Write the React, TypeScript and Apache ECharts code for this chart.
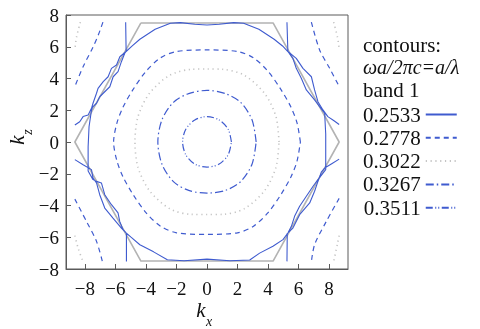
import React, { useEffect, useRef } from "react";
import * as echarts from "echarts";

// ---- data ----
const xTicks = [-8, -6, -4, -2, 0, 2, 4, 6, 8];
const levels = ["0.2533", "0.2778", "0.3022", "0.3267", "0.3511"];

// first Brillouin zone outline (kx, kz)
const bzHexagon = [
  [-4.33, 7.5], [4.33, 7.5], [8.66, 0], [4.33, -7.5], [-4.33, -7.5], [-8.66, 0], [-4.33, 7.5],
];

// contour 0.2533 (solid)
const c2533 = [
  [[-5.3, 5.7], [-4.9, 6.05], [-4.4, 6.47], [-3.4, 7.1], [-2.4, 7.48], [-1.75, 7.52], [-0.8, 7.42], [0, 7.37], [0.8, 7.42], [1.75, 7.52], [2.4, 7.48], [3.4, 7.1], [4.4, 6.47], [4.95, 6.05], [5.3, 5.7]],
  [[-5.3, -5.73], [-5.0, -5.98], [-4.4, -6.47], [-3.5, -6.92], [-2.6, -7.42], [-1.5, -7.48], [0, -7.38], [1.5, -7.48], [2.8, -7.43], [3.45, -7.0], [4.32, -6.57], [4.98, -6.15], [5.3, -5.73]],
  [[-5.33, 7.55], [-5.3, 5.7]],
  [[5.24, 7.55], [5.3, 5.7]],
  [[-5.28, -5.73], [-5.28, -7.52]],
  [[5.26, -5.73], [5.24, -7.52]],
  [[-5.3, 5.7], [-5.71, 5.37], [-5.93, 4.85], [-6.26, 4.64], [-6.48, 4.11], [-6.8, 3.8], [-7.14, 3.38], [-7.24, 3.07], [-7.47, 2.44], [-7.57, 2.12], [-7.79, 1.7], [-8.12, 1.6], [-8.34, 1.28], [-8.66, 1.07]],
  [[-5.3, 5.7], [-5.39, 5.59], [-5.61, 5.06], [-5.83, 4.43], [-6.15, 4.11], [-6.37, 3.48], [-6.8, 3.07], [-7.03, 2.85], [-7.24, 2.44], [-7.5, 2.2], [-7.57, 2.0], [-7.73, 0.96], [-7.79, -0.3], [-7.79, -1.83], [-7.47, -2.37], [-7.24, -2.48], [-6.92, -2.58], [-6.7, -3.32], [-6.26, -3.95], [-5.83, -4.47], [-5.72, -5.0], [-5.5, -5.52], [-5.3, -5.73]],
  [[-8.66, -1.11], [-8.12, -1.43], [-7.57, -1.74], [-7.47, -2.27], [-7.24, -2.58], [-7.03, -3.32], [-6.7, -4.16], [-6.16, -4.79], [-5.61, -5.42], [-5.3, -5.73]],
  [[5.3, 5.7], [5.85, 5.27], [6.29, 4.64], [6.84, 4.11], [7.05, 3.28], [7.27, 2.54], [7.6, 2.02], [7.92, 1.6], [8.3, 1.35], [8.66, 1.1]],
  [[5.3, 5.7], [5.63, 5.27], [5.85, 4.64], [6.18, 4.01], [6.51, 3.28], [7.05, 2.65], [7.38, 2.22], [7.71, 1.81], [7.78, 0.5], [7.78, -0.5], [7.78, -1.74], [7.27, -2.37], [6.95, -2.79], [6.51, -3.42], [6.07, -4.05], [5.74, -4.68], [5.53, -5.31], [5.3, -5.73]],
  [[8.66, -1.08], [8.2, -1.35], [7.71, -1.64], [7.49, -1.9], [7.27, -2.48], [7.05, -3.1], [6.73, -3.84], [6.07, -4.58], [5.63, -5.42], [5.3, -5.73]],
];

// contour 0.2778 (dashed)
const c2778 = [
  [[6.12, 0], [5.9, 1.2], [5.5, 2.2], [4.85, 3.3], [4.0, 4.45], [3.05, 5.3], [2.0, 5.7], [0, 5.8], [-2.0, 5.7], [-3.05, 5.3], [-4.0, 4.45], [-4.85, 3.3], [-5.5, 2.2], [-5.9, 1.2], [-6.12, 0], [-5.9, -1.2], [-5.5, -2.2], [-4.85, -3.3], [-4.0, -4.45], [-3.05, -5.3], [-2.0, -5.72], [0, -5.82], [2.0, -5.72], [3.05, -5.3], [4.0, -4.45], [4.85, -3.3], [5.5, -2.2], [5.9, -1.2], [6.12, 0]],
  [[-6.82, 7.55], [-7.1, 6.8], [-7.46, 6.0], [-8.12, 4.74], [-8.66, 3.5]],
  [[6.84, 7.55], [7.38, 5.8], [8.04, 4.64], [8.66, 3.5]],
  [[-8.66, -3.6], [-7.9, -5.0], [-7.24, -6.26], [-6.85, -7.55]],
  [[8.66, -3.55], [7.82, -5.0], [7.05, -6.47], [6.84, -7.55]],
];

// contour 0.3022 (dotted)
const c3022 = [
  [[4.72, 0], [4.52, 1.6], [3.78, 3.05], [2.45, 4.2], [1.0, 4.58], [0, 4.6], [-1.0, 4.58], [-2.45, 4.2], [-3.78, 3.05], [-4.52, 1.6], [-4.72, 0], [-4.52, -1.6], [-3.78, -3.05], [-2.45, -4.2], [-1.0, -4.56], [0, -4.57], [1.0, -4.56], [2.45, -4.2], [3.78, -3.05], [4.52, -1.6], [4.72, 0]],
  [[-8.3, 7.55], [-8.55, 6.6], [-8.66, 5.8]],
  [[8.3, 7.55], [8.55, 6.6], [8.66, 5.9]],
  [[-8.66, -5.9], [-8.44, -6.7], [-8.12, -7.55]],
  [[8.66, -5.9], [8.55, -6.4], [8.3, -7.55]],
];

// contour 0.3267 (dash-dot)
const c3267 = [
  [[3.22, 0], [2.95, 1.4], [2.2, 2.5], [1.2, 3.05], [0, 3.25], [-1.2, 3.05], [-2.2, 2.5], [-2.95, 1.4], [-3.22, 0], [-2.95, -1.4], [-2.2, -2.5], [-1.2, -3.05], [0, -3.22], [1.2, -3.05], [2.2, -2.5], [2.95, -1.4], [3.22, 0]],
];

// contour 0.3511 (long dash-dot)
const c3511 = [
  [[1.6, 0], [1.39, 0.8], [0.8, 1.39], [0, 1.6], [-0.8, 1.39], [-1.39, 0.8], [-1.6, 0], [-1.39, -0.8], [-0.8, -1.39], [0, -1.58], [0.8, -1.39], [1.39, -0.8], [1.6, 0]],
];

const BLUE = "#3f5bcf";
const SERIF = "Liberation Serif";

const joinSegments = (segs: number[][][]) => {
  const out: any[] = [];
  segs.forEach((s, i) => {
    if (i > 0) out.push(["-", "-"]);
    s.forEach((p) => out.push(p));
  });
  return out;
};

export default function App() {
  const ref = useRef<HTMLDivElement>(null);
  useEffect(() => {
    if (!ref.current) return;
    const chart = echarts.init(ref.current, undefined, { renderer: "svg" });
    const styles: any[] = [
      { color: BLUE, width: 1.1, type: "solid", smooth: false },
      { color: BLUE, width: 1.2, type: [5, 4], smooth: 0.3 },
      { color: "#c4c4c4", width: 1.6, type: [1.2, 3.6], smooth: 0.3 },
      { color: BLUE, width: 1.2, type: [8, 3, 1.5, 3], smooth: 0.3 },
      { color: BLUE, width: 1.2, type: [7, 2.5, 1, 2, 1, 2.5], smooth: 0.3 },
    ];
    const sets = [c2533, c2778, c3022, c3267, c3511];
    const contourSeries = levels.map((name, i) => ({
      name,
      type: "line",
      data: joinSegments(sets[i]),
      symbol: "none",
      showSymbol: false,
      smooth: styles[i].smooth,
      connectNulls: false,
      lineStyle: { color: styles[i].color, width: styles[i].width, type: styles[i].type },
      itemStyle: { color: styles[i].color },
      z: 3,
      silent: true,
    }));
    const axisColor = "#5a5a5a";
    const textStyle = { fontFamily: SERIF, fontSize: 19, color: "#111" };
    chart.setOption({
      animation: false,
      grid: { left: 66, top: 15, right: 132, bottom: 60, show: true, borderColor: axisColor, borderWidth: 1, containLabel: false },
      xAxis: {
        type: "value",
        min: -9.24,
        max: 9.24,
        axisLine: { show: true, onZero: false, lineStyle: { color: axisColor, width: 1 } },
        axisTick: { show: true, inside: true, length: 5, customValues: xTicks, lineStyle: { color: axisColor } },
        axisLabel: {
          customValues: xTicks,
          margin: 10,
          ...textStyle,
          formatter: (v: number) => String(v).replace("-", "\u2212"),
        },
        splitLine: { show: false },
      },
      yAxis: {
        type: "value",
        min: -8,
        max: 8,
        interval: 2,
        axisLine: { show: true, onZero: false, lineStyle: { color: axisColor, width: 1 } },
        axisTick: { show: true, inside: true, length: 5, lineStyle: { color: axisColor } },
        axisLabel: {
          margin: 7,
          ...textStyle,
          formatter: (v: number) => String(v).replace("-", "\u2212"),
        },
        splitLine: { show: false },
      },
      legend: {
        data: levels,
        orient: "vertical",
        left: 363,
        top: 104,
        padding: 0,
        align: "right",
        itemWidth: 31,
        itemHeight: 14,
        itemGap: 2.3,
        selectedMode: false,
        itemStyle: { opacity: 0, borderWidth: 0 },
        textStyle: { fontFamily: SERIF, fontSize: 21, color: "#111" },
      },
      graphic: [
        { type: "text", left: 363, top: 34, style: { text: "contours:", fontFamily: SERIF, fontSize: 21, fill: "#111" } },
        { type: "text", left: 363, top: 57, style: { text: "\u03c9a/2\u03c0c=a/\u03bb", fontFamily: SERIF, fontStyle: "italic", fontSize: 20, fill: "#111" } },
        { type: "text", left: 363, top: 79, style: { text: "band 1", fontFamily: SERIF, fontSize: 21, fill: "#111" } },
        { type: "text", x: 201, y: 310, style: { text: "k", fontFamily: SERIF, fontStyle: "italic", fontSize: 21, fill: "#111", align: "center", verticalAlign: "middle" } },
        { type: "text", x: 209, y: 321, style: { text: "x", fontFamily: SERIF, fontStyle: "italic", fontSize: 14, fill: "#111", align: "center", verticalAlign: "middle" } },
        {
          type: "group",
          x: 17,
          y: 140,
          rotation: Math.PI / 2,
          children: [
            { type: "text", x: 0, y: 0, style: { text: "k", fontFamily: SERIF, fontStyle: "italic", fontSize: 21, fill: "#111", align: "center", verticalAlign: "middle" } },
            { type: "text", x: 8, y: 10, style: { text: "z", fontFamily: SERIF, fontStyle: "italic", fontSize: 14, fill: "#111", align: "center", verticalAlign: "middle" } },
          ],
        },
      ],
      series: [
        {
          type: "line",
          data: bzHexagon,
          symbol: "none",
          lineStyle: { color: "#b3b3b3", width: 1.6 },
          z: 2,
          silent: true,
        },
        ...contourSeries,
      ],
    });
    return () => chart.dispose();
  }, []);
  return <div ref={ref} style={{ position: "fixed", left: 0, top: 0, width: 480, height: 329 }} />;
}
